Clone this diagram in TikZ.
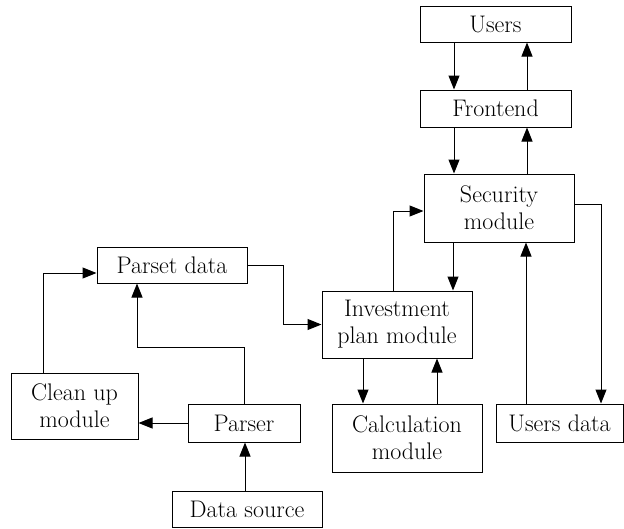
\documentclass[tikz,border=0pt]{standalone}
\usepackage{tikz}
\usetikzlibrary{positioning,arrows.meta}

\begin{document}
\begin{tikzpicture}[
    x=1pt, y=-1pt,
    block/.style={rectangle, draw, line width=1pt, inner sep=0pt, align=center,
        font=\fontsize{24}{27}\selectfont, text=black},
    flow/.style={line width=1pt, -{Triangle[length=14pt,width=11pt]}}
]
\useasboundingbox (0,0) rectangle (624,528);

\node [block, minimum width=151pt, minimum height=36pt] (Users) at (495.5,24) {Users};
\node [block, minimum width=151pt, minimum height=37pt] (Frontend) at (495.5,108.5) {Frontend};
\node [block, minimum width=150pt, minimum height=68pt] (Security) at (499,208) {Security\\module};
\node [block, minimum width=150pt, minimum height=36pt] (ParsetData) at (172,265) {Parset data};
\node [block, minimum width=150pt, minimum height=67pt] (Invest) at (397,324.5) {Investment\\plan module};
\node [block, minimum width=127pt, minimum height=66pt] (CleanUp) at (74.5,406) {Clean up\\module};
\node [block, minimum width=112pt, minimum height=38pt] (Parser) at (244,423) {Parser};
\node [block, minimum width=150pt, minimum height=68pt] (Calc) at (407,438) {Calculation\\module};
\node [block, minimum width=127pt, minimum height=38pt] (UsersData) at (559.5,423) {Users data};
\node [block, minimum width=150pt, minimum height=36pt] (DataSource) at (247,509) {Data source};

% top of the stack
\draw [flow] ([xshift=-41.5]Users.south) -- ([xshift=-41.5]Frontend.north);
\draw [flow] ([xshift=31.5]Frontend.north) -- ([xshift=31.5]Users.south);
\draw [flow] ([xshift=-41.5]Frontend.south) -- ([xshift=-41.5]Frontend.south |- Security.north);
\draw [flow] ([xshift=31.5]Frontend.south |- Security.north) -- ([xshift=31.5]Frontend.south);

% security and the modules round it
\draw [flow] ([xshift=-46]Security.south) -- ([xshift=-46]Security.south |- Invest.north);
\draw [flow] ([xshift=-4]Invest.north) |- ([yshift=-3]Security.west);
\draw [flow] ([yshift=4]Security.east) -| ([xshift=41.5]UsersData.north);
\draw [flow] ([xshift=-33.5]UsersData.north) -- ([xshift=-33.5]UsersData.north |- Security.south);
\draw [flow] ([xshift=-34]Invest.south) -- ([xshift=-34]Invest.south |- Calc.north);
\draw [flow] ([xshift=40]Invest.south |- Calc.north) -- ([xshift=40]Invest.south);

% parsing side
\draw [flow] (ParsetData.east) -- ++(36,0) |- (Invest.west);
\draw [flow] (Parser.north) -- ++(0,-56) -| ([xshift=-35]ParsetData.south);
\draw [flow] (Parser.west) -- (Parser.west -| CleanUp.east);
\draw [flow] ([xshift=-31.5]CleanUp.north) |- ([yshift=-8]ParsetData.west);
\draw [flow] ([xshift=-2]DataSource.north) -- ([xshift=-2]DataSource.north |- Parser.south);

\end{tikzpicture}
\end{document}
